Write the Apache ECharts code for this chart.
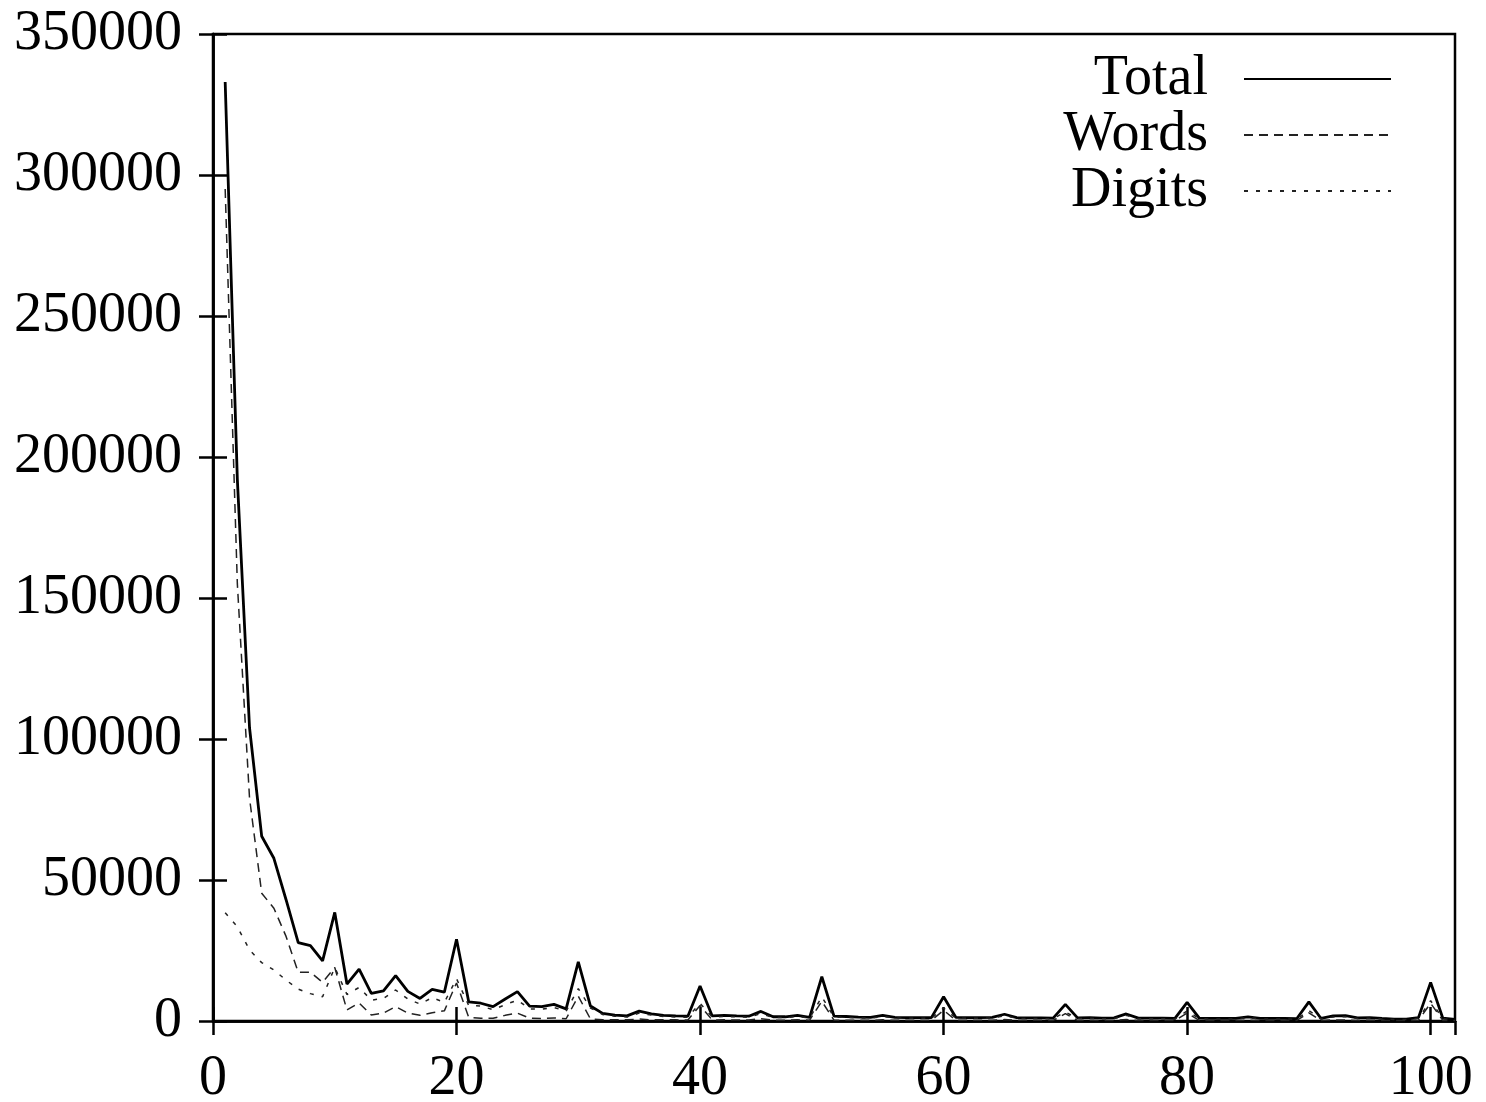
<!DOCTYPE html>
<html>
<head>
<meta charset="utf-8">
<script src="https://cdn.jsdelivr.net/npm/echarts@6/dist/echarts.min.js"></script>
<style>
html,body{margin:0;padding:0;background:#fff;}
#chart{width:1486px;height:1102px;}
</style>
</head>
<body>
<div id="chart"></div>
<script>
// x positions 1..102
const xValues = [];
for (let i = 1; i <= 102; i++) xValues.push(i);

const totalValues = [
  333000,192000,104000,65500,57700,43000,27800,26700,21300,38500,
  13100,18400,9800,10700,16100,10500,8000,11200,10200,29000,
  6800,6300,5100,7800,10400,5300,5100,5900,4300,21000,
  5300,2700,2100,1800,3500,2500,2000,1800,1700,12400,
  1800,2000,1800,1700,3400,1500,1500,2000,1300,15700,
  1700,1600,1400,1300,2000,1300,1200,1200,1200,8600,
  1300,1200,1200,1300,2400,1200,1100,1100,1000,5900,
  1100,1200,1000,1100,2500,1000,1000,1000,900,6600,
  1000,900,900,900,1500,900,900,900,800,6800,
  900,1800,1900,1100,1200,900,700,700,1200,13700,
  1000,600
];

const wordsValues = [
  295000,155000,79000,45300,40000,30000,17300,17300,13700,19000,
  3900,6400,2100,2800,5100,2800,2000,2900,3600,13500,
  1300,1000,1000,2000,2800,1000,900,1100,800,8800,
  700,400,400,400,700,400,400,400,350,5500,
  350,400,350,350,800,300,300,400,300,7000,
  300,300,300,250,400,250,250,250,250,3800,
  250,250,250,250,500,250,250,250,200,2600,
  200,250,200,200,500,200,200,200,200,2800,
  200,200,200,200,300,200,200,200,200,2900,
  200,350,400,200,250,200,150,150,250,6300,
  200,150
];

const digitsValues = [
  38400,33400,25200,20700,18100,14500,11300,9700,8600,19000,
  9400,11900,7400,8000,11000,7800,6000,8300,6600,15000,
  5500,5300,4000,5800,7400,4300,4200,4800,3500,11500,
  4600,2300,1700,1400,2800,2100,1600,1400,1350,6300,
  1450,1600,1450,1350,2600,1200,1200,1600,1000,8600,
  1400,1300,1100,1050,1600,1050,950,950,950,4600,
  1050,950,950,1050,1900,950,850,850,800,3200,
  900,950,800,900,2000,800,800,800,700,3600,
  800,700,700,700,1200,700,700,700,600,3700,
  700,1450,1500,900,950,700,550,550,950,7200,
  800,450
];

const seriesNames = ['Total', 'Words', 'Digits'];
const xTickValues = [0, 20, 40, 60, 80, 100];

function pairs(vals) { return xValues.map((x, i) => [x, vals[i]]); }

const FONT = 'Liberation Serif';
const chart = echarts.init(document.getElementById('chart'), null, {renderer: 'canvas'});

const axisLineStyle = {show: true, lineStyle: {color: '#000', width: 2.5}};
const tickStyle = {show: true, inside: true, length: 14, lineStyle: {color: '#000', width: 2.5}};

chart.setOption({
  animation: false,
  backgroundColor: '#fff',
  grid: {left: 213, right: 31, top: 34, bottom: 81, containLabel: false, outerBoundsMode: 'none',
    show: true, borderColor: '#000', borderWidth: 2.5},
  legend: {
    orient: 'vertical',
    align: 'right',
    right: 89,
    top: 46,
    itemWidth: 147,
    itemHeight: 2,
    itemGap: 0,
    itemStyle: {color: 'rgba(0,0,0,0)', borderWidth: 0},
    textStyle: {fontFamily: FONT, fontSize: 56, color: '#000', lineHeight: 55, padding: [0, 31, 0, 0]},
    data: seriesNames
  },
  xAxis: [{
    type: 'value', min: 0, max: 102, interval: 20,
    axisLine: axisLineStyle, axisTick: tickStyle, splitLine: {show: false},
    axisLabel: {showMaxLabel: false, margin: 30, fontFamily: FONT, fontSize: 56, color: '#000',
      formatter: v => (xTickValues.indexOf(v) >= 0 ? String(v) : '')}
  }, {
    type: 'value', min: 0, max: 102, interval: 20, position: 'top',
    axisLine: axisLineStyle, axisTick: tickStyle, splitLine: {show: false},
    axisLabel: {show: false}
  }],
  yAxis: [{
    type: 'value', min: 0, max: 350000, interval: 50000,
    axisLine: axisLineStyle, axisTick: tickStyle, splitLine: {show: false},
    axisLabel: {margin: 31, fontFamily: FONT, fontSize: 56, color: '#000', formatter: v => String(v)}
  }, {
    type: 'value', min: 0, max: 350000, interval: 50000, position: 'right',
    axisLine: axisLineStyle, axisTick: tickStyle, splitLine: {show: false},
    axisLabel: {show: false}
  }],
  series: [{
    name: seriesNames[0], type: 'line', data: pairs(totalValues),
    showSymbol: false, symbol: 'none',
    lineStyle: {color: '#000', width: 2.8, type: 'solid'},
    itemStyle: {color: '#000'}, z: 3
  }, {
    name: seriesNames[1], type: 'line', data: pairs(wordsValues),
    showSymbol: false, symbol: 'none',
    lineStyle: {color: '#222', width: 1.5, type: [9, 6]},
    itemStyle: {color: '#222'}, z: 4
  }, {
    name: seriesNames[2], type: 'line', data: pairs(digitsValues),
    showSymbol: false, symbol: 'none',
    lineStyle: {color: '#222', width: 1.5, type: [4, 8]},
    itemStyle: {color: '#222'}, z: 5
  }]
});
</script>
</body>
</html>
